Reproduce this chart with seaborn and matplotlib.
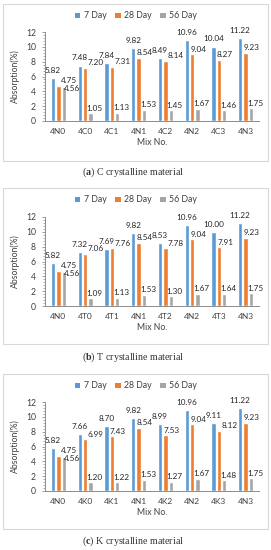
import pandas as pd
import matplotlib
matplotlib.use("Agg")
import matplotlib.pyplot as plt
import seaborn as sns
from matplotlib.patches import Patch, Rectangle
from matplotlib.ticker import MultipleLocator

# data
series = ["7 Day", "28 Day", "56 Day"]

cats_c = ["4N0", "4C0", "4C1", "4N1", "4C2", "4N2", "4C3", "4N3"]
c_7 = [5.82, 7.48, 7.84, 9.82, 8.49, 10.96, 10.04, 11.22]
c_28 = [4.75, 7.20, 7.31, 8.54, 8.14, 9.04, 8.27, 9.23]
c_56 = [4.56, 1.05, 1.13, 1.53, 1.45, 1.67, 1.46, 1.75]

cats_t = ["4N0", "4T0", "4T1", "4N1", "4T2", "4N2", "4T3", "4N3"]
t_7 = [5.82, 7.32, 7.69, 9.82, 8.53, 10.96, 10.00, 11.22]
t_28 = [4.75, 7.06, 7.76, 8.54, 7.78, 9.04, 7.91, 9.23]
t_56 = [4.56, 1.09, 1.13, 1.53, 1.30, 1.67, 1.64, 1.75]

cats_k = ["4N0", "4K0", "4K1", "4N1", "4K2", "4N2", "4K3", "4N3"]
k_7 = [5.82, 7.66, 8.70, 9.82, 8.99, 10.96, 9.11, 11.22]
k_28 = [4.75, 6.99, 7.43, 8.54, 7.53, 9.04, 8.12, 9.23]
k_56 = [4.56, 1.20, 1.22, 1.53, 1.27, 1.67, 1.48, 1.75]

captions = ["($\\mathbf{a}$) C crystalline material",
            "($\\mathbf{b}$) T crystalline material",
            "($\\mathbf{c}$) K crystalline material"]

colors = ["#5B9BD5", "#ED7D31", "#A5A5A5"]

sns.set_style("white")
plt.rcParams["font.family"] = ["Lato", "DejaVu Sans"]
plt.rcParams["mathtext.fontset"] = "custom"
plt.rcParams["mathtext.bf"] = "Liberation Serif:bold"
plt.rcParams["mathtext.rm"] = "Liberation Serif"

W, H = 271, 550
fig = plt.figure(figsize=(W / 100, H / 100), dpi=100)

# (axis zero y, box top, box bottom, legend y, caption y) in pixels
panels = [
    (cats_c, c_7, c_28, c_56, 121, 4, 161, 16, 172),
    (cats_t, t_7, t_28, t_56, 306, 188, 344, 200, 357),
    (cats_k, k_7, k_28, k_56, 491, 374, 529, 386, 541),
]

for i, (cats, v7, v28, v56, y0, btop, bbot, ly, cy) in enumerate(panels):
    df = pd.DataFrame({
        "mix": cats * 3,
        "series": [s for s in series for _ in cats],
        "value": v7 + v28 + v56,
    })
    ax = fig.add_axes([45 / W, 1 - y0 / H, 214 / W, 89 / H])
    sns.barplot(data=df, x="mix", y="value", hue="series", order=cats,
                hue_order=series, palette=colors, width=0.6, gap=0.2,
                saturation=1, legend=False, ax=ax)

    # data labels, roughly where Excel put them (pushed aside when they would collide)
    for k, cont in enumerate(ax.containers):
        for j, bar in enumerate(cont):
            h = bar.get_height()
            if k == 0:
                off = (0, 3)
            elif k == 1:
                off = (7.5, 1.0) if abs(v7[j] - h) < 1.2 else (4.5, 1.0)
            else:
                off = (6, -3.5) if v28[j] - h < 2 else (3, 1)
            ax.annotate(f"{h:.2f}", (bar.get_x() + bar.get_width() / 2, h),
                        xytext=off, textcoords="offset points",
                        ha="center", va="bottom", fontsize=5.9, color="#262626")

    ax.set_xlim(-0.5, len(cats) - 0.5)
    ax.set_ylim(0, 12)
    ax.yaxis.set_major_locator(MultipleLocator(2))
    ax.yaxis.set_minor_locator(MultipleLocator(0.4))
    ax.set_xticks(range(len(cats)))
    ax.set_xticks([x - 0.5 for x in range(len(cats) + 1)], minor=True)
    ax.tick_params(axis="x", which="major", length=0, labelsize=6, pad=5,
                   labelcolor="#404040")
    ax.tick_params(axis="x", which="minor", length=2.5, width=0.6,
                   color="#8c8c8c", direction="out")
    ax.tick_params(axis="y", which="major", length=2.5, width=0.6,
                   color="#8c8c8c", labelsize=6.2, pad=4, labelcolor="#404040",
                   direction="out", left=True)
    ax.tick_params(axis="y", which="minor", length=1.5, width=0.5,
                   color="#8c8c8c", direction="out", left=True)
    sns.despine(ax=ax)
    for sp in ["left", "bottom"]:
        ax.spines[sp].set_color("#8c8c8c")
        ax.spines[sp].set_linewidth(0.7)
    ax.set_xlabel("Mix No.", fontsize=6.2, color="#404040", labelpad=2)
    ax.set_ylabel("Absorption(%)", fontsize=6.2, color="#404040", labelpad=4)

    handles = [Patch(facecolor=c, edgecolor="none") for c in colors]
    fig.legend(handles, series, loc="center", bbox_to_anchor=(136 / W, 1 - ly / H),
               ncol=3, frameon=False, fontsize=6.3, handlelength=0.6,
               handleheight=0.6, handletextpad=0.4, columnspacing=1.0,
               labelcolor="#404040")

    fig.add_artist(Rectangle((3 / W, 1 - bbot / H), 265 / W, (bbot - btop) / H,
                             transform=fig.transFigure, fill=False,
                             edgecolor="#d9d9d9", linewidth=0.8))
    fig.text(133 / W, 1 - cy / H, captions[i], ha="center", va="center",
             fontsize=7.2, family="Liberation Serif", color="#333333")

fig.savefig("out.png", dpi=100)
